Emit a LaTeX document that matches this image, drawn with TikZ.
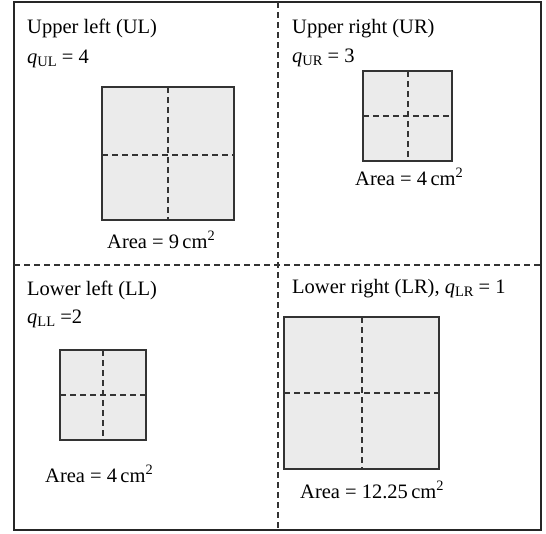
\documentclass[tikz,border=0pt]{standalone}
\usepackage{fontspec}
\setmainfont{Liberation Serif}
\usepackage{amsmath}
\newcommand{\qlab}[1]{\textit{q}\raisebox{-0.17em}{\fontsize{14.5}{15}\selectfont #1}}
\tikzset{
  txt/.style={anchor=base west, inner sep=0pt, font=\fontsize{20.5}{24}\selectfont},
  cell/.style={fill=black!8, draw=black!80, line width=1.4pt},
  divide/.style={draw=black!80, line width=1.5pt, dash pattern=on 6pt off 4pt},
}
\begin{document}
\begin{tikzpicture}[x=1pt, y=-1pt]
  \useasboundingbox (0,0) rectangle (546,533);
  % frame and quadrant separators
  \draw[black!85, line width=1.5pt] (14,2) rectangle (541,530);
  \draw[divide] (278,2) -- (278,530); \draw[divide] (14,265) -- (541,265);
  % the four squares, each split in four (corners, then middle)
  \foreach \xa/\ya/\xb/\yb/\xm/\ym in {102/87/234/220/168/155, 363/71/452/161/408/116,
      60/350/146/440/103/395, 284/317/439/469/362/393} {
    \draw[cell] (\xa,\ya) rectangle (\xb,\yb);
    \draw[divide] (\xm,\ya) -- (\xm,\yb);
    \draw[divide] (\xa,\ym) -- (\xb,\ym);
  }
  % labels
  \node[txt] (ul) at (27,33) {Upper left (UL)};
  \node[txt] (qul) at (27,63) {\qlab{UL} = 4};
  \node[txt] (ur) at (292,33) {Upper right (UR)};
  \node[txt] (qur) at (292,62) {\qlab{UR} = 3};
  \node[txt] (ll) at (27,295) {Lower left (LL)};
  \node[txt] (qll) at (27,323) {\qlab{LL} =2};
  \node[txt] (lr) at (292,293) {Lower right (LR), \qlab{LR} = 1};
  \node[txt] (aul) at (107,248) {Area = 9\,cm\textsuperscript{2}};
  \node[txt] (aur) at (355,185) {Area = 4\,cm\textsuperscript{2}};
  \node[txt] (all) at (45,482) {Area = 4\,cm\textsuperscript{2}};
  \node[txt] (alr) at (300,498) {Area = 12.25\,cm\textsuperscript{2}};
\end{tikzpicture}
\end{document}
